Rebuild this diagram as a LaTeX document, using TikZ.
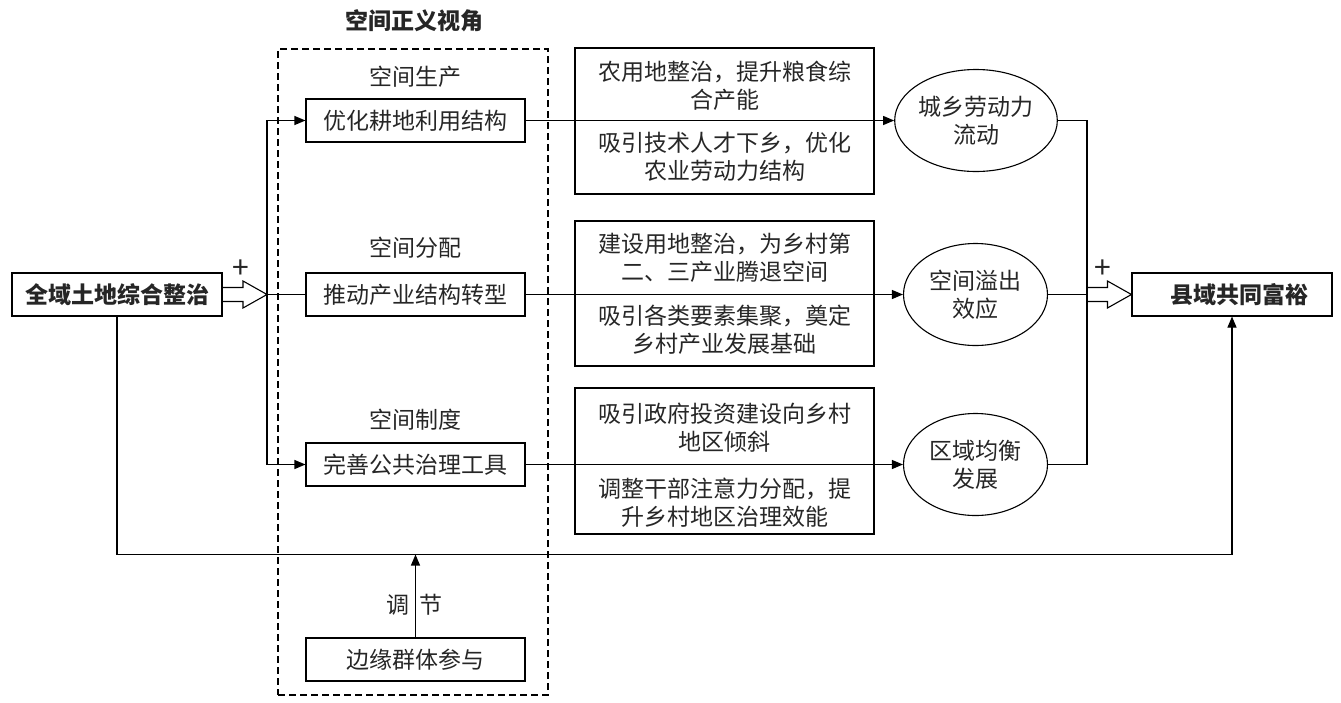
\documentclass[tikz,border=0pt]{standalone}
\usepackage{fontspec}
\setmainfont{Noto Sans CJK SC}
\usetikzlibrary{arrows.meta,calc,shapes.geometric}
\newcommand\hollowarrow[2]{%
  \draw[hol] ($(#1)+(0,-7)$) -- ($(#2)+(-24,-7)$) -- ($(#2)+(-24,-13.5)$) -- (#2)
     -- ($(#2)+(-24,13.5)$) -- ($(#2)+(-24,7)$) -- ($(#1)+(0,7)$);}
\begin{document}
\begin{tikzpicture}[x=1pt,y=-1pt,
  every node/.style={font=\fontsize{23}{28}\selectfont, text=black!85},
  bold/.style={font=\fontsize{23}{28}\selectfont\bfseries},
  box/.style={draw, line width=1.1pt, minimum width=219pt, minimum height=43pt, inner sep=0pt},
  tbox/.style={draw, line width=1.1pt, minimum width=299pt, inner sep=0pt},
  txt/.style={align=center, inner sep=0pt},
  ell/.style={draw, ellipse, line width=1.1pt, minimum width=144pt, minimum height=102pt, inner sep=0pt, align=center},
  ln/.style={line width=1.1pt},
  arr/.style={ln, -{Triangle[length=11pt,width=9pt]}},
  hol/.style={line width=1.1pt, line join=miter},
  frame/.style={draw, line width=1.1pt, dash pattern=on 7pt off 4pt, minimum width=270pt, minimum height=646pt, inner sep=0pt},
  plus/.style={font=\fontsize{30}{30}\selectfont, inner sep=0pt}
]
\useasboundingbox (0,0) rectangle (1341,702);

% frame and headings
\node[frame] (F) at (413,372) {};
\node[bold] (T) at (414,21) {空间正义视角};
\node (h1) at (415,77) {空间生产};
\node (h2) at (415,248) {空间分配};
\node (h3) at (415,420) {空间制度};

% left and right boxes
\node[box, minimum width=210pt, bold] (L) at (117,294.5) {全域土地综合整治};
\node[box, minimum width=200pt, bold] (R) at (1232,294.5) {\hspace*{14pt}县域共同富裕};

% middle boxes
\node[box] (b1) at (415.5,120.5) {优化耕地利用结构};
\node[box] (b2) at (415.5,294.5) {推动产业结构转型};
\node[box] (b3) at (415.5,464.5) {完善公共治理工具};
\node[box] (G) at (415.5,659.5) {边缘群体参与};

% text boxes
\node[tbox, minimum height=146pt] (t1) at (724.5,121) {};
\node[tbox, minimum height=145pt] (t2) at (724.5,293.5) {};
\node[tbox, minimum height=146pt] (t3) at (724.5,461) {};
\node[txt] (t1a) at (724.5,86) {农用地整治，提升粮食综\\合产能};
\node[txt] (t1b) at (724.5,157) {吸引技术人才下乡，优化\\农业劳动力结构};
\node[txt] (t2a) at (724.5,257.5) {建设用地整治，为乡村第\\二、三产业腾退空间};
\node[txt] (t2b) at (724.5,329.5) {吸引各类要素集聚，奠定\\乡村产业发展基础};
\node[txt] (t3a) at (724.5,428) {吸引政府投资建设向乡村\\地区倾斜};
\node[txt] (t3b) at (724.5,502.5) {调整干部注意力分配，提\\升乡村地区治理效能};

% ellipses
\node[ell] (e1) at (976,120.5) {城乡劳动力\\流动};
\node[ell] (e2) at (975.5,294.5) {空间溢出\\效应};
\node[ell] (e3) at (975.5,464.5) {区域均衡\\发展};

% coordinates
\coordinate (sp) at (267,294.5);
\coordinate (m) at (1087,294.5);
\coordinate (bl) at (117,554.5);

% hollow arrows and plus signs
\hollowarrow{L.east}{sp}
\hollowarrow{m}{R.west}
\node[plus] (p1) at (241,269) {+};
\node[plus] (p2) at (1103,269) {+};

% split
\draw[arr] (sp) |- (b1.west);
\draw[arr] (sp) |- (b3.west);
\draw[ln] (sp) -- (b2.west);

% through text boxes to ellipses
\draw[arr] (b1.east) -- (e1.west);
\draw[arr] (b2.east) -- (e2.west);
\draw[arr] (b3.east) -- (e3.west);

% merge
\draw[ln] (e1.east) -| (m);
\draw[ln] (e3.east) -| (m);
\draw[ln] (e2.east) -- (m);

% bottom path
\draw[arr] (L.south) |- (bl) -| (R.south);
\draw[arr] (G.north) -- (G.north |- bl);
\node (a1) at (398,605) {调};
\node (a2) at (431,605) {节};
\end{tikzpicture}
\end{document}
